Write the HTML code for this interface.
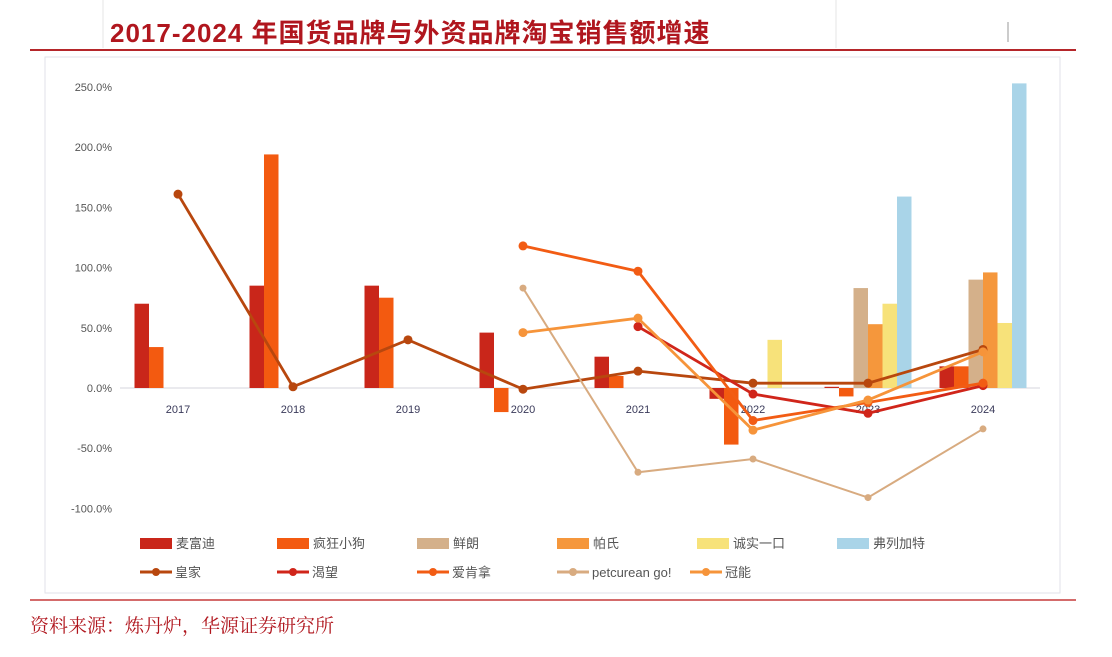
<!DOCTYPE html>
<html><head><meta charset="utf-8">
<style>
body{margin:0;width:1112px;height:652px;background:#fff;overflow:hidden;font-family:"Liberation Sans","Noto Sans CJK SC",sans-serif;}
</style></head>
<body>
<svg width="1112" height="652" viewBox="0 0 1112 652" xmlns="http://www.w3.org/2000/svg" id="svg">
<line x1="103" y1="0" x2="103" y2="48" stroke="#e6e6e6"/>
<line x1="836" y1="0" x2="836" y2="48" stroke="#e6e6e6"/>
<line x1="1008" y1="22" x2="1008" y2="42" stroke="#999"/>
<text x="110" y="42" font-size="26" letter-spacing="1" font-weight="bold" fill="#b0161e" font-family="'Liberation Sans','Noto Sans CJK SC',sans-serif">2017-2024 年国货品牌与外资品牌淘宝销售额增速</text>
<line x1="30" y1="50" x2="1076" y2="50" stroke="#b5262a" stroke-width="2"/>
<rect x="45" y="57" width="1015" height="536" fill="#fff" stroke="#e2e2e8"/>
<line x1="30" y1="600" x2="1076" y2="600" stroke="#c53a3a" stroke-width="1.5"/>
<text x="30" y="632" font-size="19" fill="#b0161e" font-family="'Liberation Serif','Noto Serif CJK SC',serif">资料来源：炼丹炉，华源证券研究所</text>
<g id="axes"></g><g id="bars"></g><g id="lines"></g><g id="legend"></g>
</svg>
<script>
const categories=["2017","2018","2019","2020","2021","2022","2023","2024"];
const yTicks=[250,200,150,100,50,0,-50,-100];
const barNames=["麦富迪","疯狂小狗","鲜朗","帕氏","诚实一口","弗列加特"];
const barColors=["#c9261a","#f35a10","#d4b08a","#f5973c","#f7e27a","#a9d4e8"];
const barMaifudi=[70,85,85,46,26,-9,1,18];
const barFengkuang=[34,194,75,-20,10,-47,-7,18];
const barXianlang=[null,null,null,null,null,null,83,90];
const barPashi=[null,null,null,null,null,null,53,96];
const barChengshi=[null,null,null,null,null,40,70,54];
const barFulie=[null,null,null,null,null,null,159,253];
const lineNames=["皇家","渴望","爱肯拿","petcurean go!","冠能"];
const lineColors=["#b8470e","#d0251a","#f25c14","#d8ab80","#f6943a"];
const lineHuangjia=[161,1,40,-1,14,4,4,32];
const lineKewang=[null,null,null,null,51,-5,-21,2];
const lineAikenna=[null,null,null,118,97,-27,-12,4];
const linePetcurean=[null,null,null,83,-70,-59,-91,-34];
const lineGuanneng=[null,null,null,46,58,-35,-10,30];

const NS="http://www.w3.org/2000/svg";
const y=v=>388-v*1.204;
const xc=i=>178+i*115;
const BW=14.5;
function mk(tag,attrs,parent){const e=document.createElementNS(NS,tag);for(const k in attrs)e.setAttribute(k,attrs[k]);document.getElementById(parent).appendChild(e);return e;}
yTicks.forEach(t=>{const e=mk("text",{x:112,y:y(t)+4,"text-anchor":"end","font-size":11,fill:"#555"},"axes");e.textContent=t.toFixed(1)+"%";

});
const ax=mk("line",{x1:120,x2:1040,y1:y(0),y2:y(0),stroke:"#d4d4dc"},"axes");


categories.forEach((c,i)=>{const e=mk("text",{x:xc(i),y:413,"text-anchor":"middle","font-size":11,fill:"#3a3a5a"},"axes");e.textContent=c;

});
const barSeries=[barMaifudi,barFengkuang,barXianlang,barPashi,barChengshi,barFulie];
barSeries.forEach((s,j)=>s.forEach((v,i)=>{if(v===null)return;
const x0=xc(i)-3*BW+j*BW;const r=mk("rect",{x:x0,y:Math.min(y(v),y(0)),width:BW,height:Math.abs(y(v)-y(0)),fill:barColors[j]},"bars");

}));
const lineSeries=[lineHuangjia,lineKewang,lineAikenna,linePetcurean,lineGuanneng];
lineSeries.forEach((s,j)=>{const pts=[];s.forEach((v,i)=>{if(v!==null)pts.push([xc(i),y(v)]);});
const p=mk("polyline",{points:pts.map(p=>p.join(",")).join(" "),fill:"none",stroke:lineColors[j],"stroke-width":j==3?2:2.8},"lines");


pts.forEach(q=>{const c=mk("circle",{cx:q[0],cy:q[1],r:j==3?3.5:4.5,fill:lineColors[j]},"lines");

});});
const lx=[140,277,417,557,697,837];
barNames.forEach((n,j)=>{const r=mk("rect",{x:lx[j],y:538,width:32,height:11,fill:barColors[j]},"legend");


const t=mk("text",{x:lx[j]+36,y:548,"font-size":13,fill:"#555"},"legend");t.textContent=n;

});
const lx2=[140,277,417,557,690];
lineNames.forEach((n,j)=>{const l=mk("line",{x1:lx2[j],x2:lx2[j]+32,y1:572,y2:572,stroke:lineColors[j],"stroke-width":3},"legend");


const c=mk("circle",{cx:lx2[j]+16,cy:572,r:4,fill:lineColors[j]},"legend");


const t=mk("text",{x:lx2[j]+35,y:577,"font-size":13,fill:"#555"},"legend");t.textContent=n;

});
</script>
</body></html>
